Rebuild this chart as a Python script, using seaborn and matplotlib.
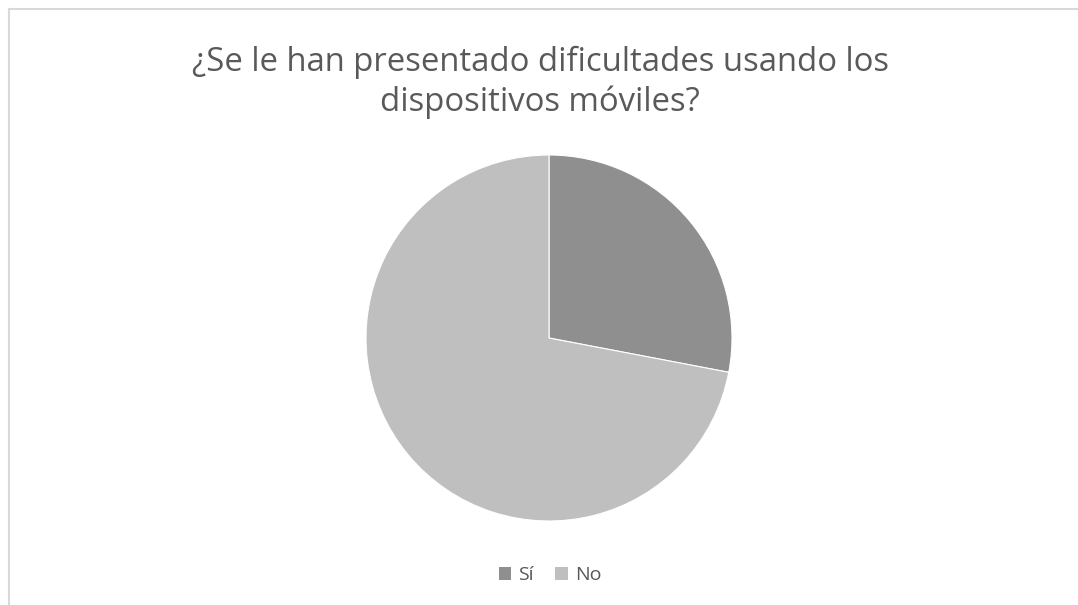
import matplotlib
matplotlib.use("Agg")
import matplotlib.pyplot as plt
import seaborn as sns
from matplotlib.lines import Line2D
from matplotlib.patches import Patch

categories = ["Sí", "No"]
values = [28, 72]
title_lines = ["¿Se le han presentado dificultades usando los", "dispositivos móviles?"]
colors = ["#8F8F8F", "#BFBFBF"]

sns.set_theme(style="white")
plt.rcParams['font.family'] = ['Open Sans', 'DejaVu Sans']

W, H = 1078, 605
fig = plt.figure(figsize=(W / 100, H / 100), dpi=100)
fig.patch.set_facecolor("white")

# frame lines (top and left)
fig.add_artist(Line2D([9 / W, 1], [1 - 9 / H, 1 - 9 / H], color="#D9D9D9", lw=1.5, transform=fig.transFigure))
fig.add_artist(Line2D([9 / W, 9 / W], [0, 1 - 9 / H], color="#D9D9D9", lw=1.5, transform=fig.transFigure))

cx, cy, r = 549, 338, 183
ax = fig.add_axes([(cx - r) / W, (H - cy - r) / H, 2 * r / W, 2 * r / H])
ax.pie(values, colors=colors, startangle=90, counterclock=False,
       wedgeprops=dict(edgecolor="white", linewidth=0.8))
ax.set_xlim(-1, 1)
ax.set_ylim(-1, 1)
ax.set_aspect("equal")
ax.axis("off")

fig.text(540 / W, 1 - 62 / H, title_lines[0], ha="center", va="center", fontsize=23.7, color="#595959")
fig.text(540 / W, 1 - 102 / H, title_lines[1], ha="center", va="center", fontsize=23.7, color="#595959")

handles = [Patch(facecolor=c, edgecolor="none") for c in colors]
fig.legend(handles, categories, loc="center", bbox_to_anchor=(550 / W, 1 - 575 / H),
           ncol=2, frameon=False, fontsize=14, labelcolor="#595959",
           handlelength=0.65, handleheight=0.65, handletextpad=0.35, columnspacing=1.1)

fig.savefig("out.png", dpi=100, facecolor="white")
